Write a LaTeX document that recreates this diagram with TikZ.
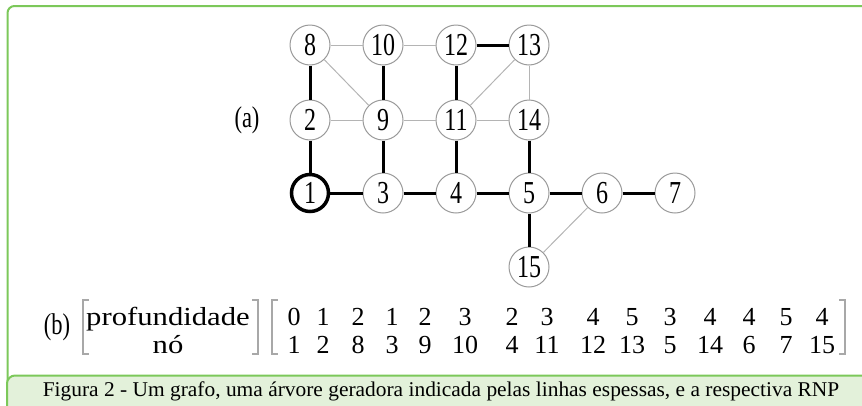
\documentclass[tikz,border=0pt]{standalone}
\usepackage{fontspec}
\usepackage{graphicx}
\setmainfont{LiberationSerif}[Extension=.ttf,UprightFont=*-Regular,BoldFont=*-Bold,ItalicFont=*-Italic]
\definecolor{frameg}{HTML}{7CC85A}
\definecolor{capfill}{HTML}{E3F1DA}
\definecolor{thingray}{HTML}{B4B4B4}
\definecolor{circgray}{HTML}{9A9A9A}
\definecolor{brk}{HTML}{A8A8A8}
\newcommand{\gn}[1]{\scalebox{0.75}[1]{#1}}
\newcommand{\mx}[1]{\scalebox{1.18}[1]{#1}}
\tikzset{
  vtx/.style={circle,draw=circgray,fill=white,line width=1pt,minimum size=40pt,inner sep=0pt,
    font=\fontsize{32}{32}\selectfont},
  root/.style={vtx,draw=black,line width=3.5pt,minimum size=37pt},
  tree/.style={line width=3pt,black},
  cotree/.style={line width=1pt,draw=thingray},
  ent/.style={anchor=base,inner sep=0pt,font=\fontsize{26}{26}\selectfont},
  bracket/.style={draw=brk,line width=1.2pt},
}
\begin{document}
\begin{tikzpicture}[x=1pt,y=-1pt]
\useasboundingbox (0,0) rectangle (862,405);
% frame
\draw[frameg,line width=2pt,rounded corners=7pt] (7.5,420) -- (7.5,6) -- (880,6);
\draw[frameg,fill=capfill,line width=2pt,rounded corners=8pt] (7,375.5) rectangle (880,430);
\node[font=\fontsize{21}{21}\selectfont] (cap) at (441,391) {\scalebox{1.02}[1]{Figura 2 - Um grafo, uma árvore geradora indicada pelas linhas espessas, e a respectiva RNP}};
% graph nodes
\node[vtx] (n8) at (310,45) {\gn{8}};
\node[vtx] (n10) at (383,45) {\gn{10}};
\node[vtx] (n12) at (456,45) {\gn{12}};
\node[vtx] (n13) at (529,45) {\gn{13}};
\node[vtx] (n2) at (310,120) {\gn{2}};
\node[vtx] (n9) at (383,120) {\gn{9}};
\node[vtx] (n11) at (456,120) {\gn{11}};
\node[vtx] (n14) at (529,120) {\gn{14}};
\node[root] (n1) at (310,193) {\gn{1}};
\node[vtx] (n3) at (383,193) {\gn{3}};
\node[vtx] (n4) at (456,193) {\gn{4}};
\node[vtx] (n5) at (529,193) {\gn{5}};
\node[vtx] (n6) at (602,193) {\gn{6}};
\node[vtx] (n7) at (675,193) {\gn{7}};
\node[vtx] (n15) at (529,267) {\gn{15}};
% thin edges
\draw[cotree] (n8) -- (n10);
\draw[cotree] (n10) -- (n12);
\draw[cotree] (n8) -- (n9);
\draw[cotree] (n2) -- (n9);
\draw[cotree] (n9) -- (n11);
\draw[cotree] (n11) -- (n14);
\draw[cotree] (n11) -- (n13);
\draw[cotree] (n13) -- (n14);
\draw[cotree] (n6) -- (n15);
% tree edges
\draw[tree] (n12) -- (n13);
\draw[tree] (n8) -- (n2);
\draw[tree] (n10) -- (n9);
\draw[tree] (n12) -- (n11);
\draw[tree] (n2) -- (n1);
\draw[tree] (n9) -- (n3);
\draw[tree] (n11) -- (n4);
\draw[tree] (n14) -- (n5);
\draw[tree] (n1) -- (n3);
\draw[tree] (n3) -- (n4);
\draw[tree] (n4) -- (n5);
\draw[tree] (n5) -- (n6);
\draw[tree] (n6) -- (n7);
\draw[tree] (n5) -- (n15);
% labels
\node[font=\fontsize{30}{30}\selectfont] (la) at (247,120) {\gn{(a)}};
\node[font=\fontsize{30}{30}\selectfont] (lb) at (57,327) {\gn{(b)}};
% left matrix
\node[ent] (prof) at (168,325) {\mx{profundidade}};
\node[ent] (no) at (168,353) {\mx{nó}};
\draw[bracket] (89,300) -- (83,300) -- (83,354) -- (89,354);
\draw[bracket] (252,300) -- (258,300) -- (258,354) -- (252,354);
% right matrix
\foreach \x/\d/\v [count=\i] in {294/0/1,323/1/2,358/2/8,392/1/3,425/2/9,465/3/10,512/2/4,547/3/11,593/4/12,632/5/13,670/3/5,710/4/14,749/4/6,786/5/7,822/4/15}{
  \node[ent] (d\i) at (\x,325) {\d};
  \node[ent] (v\i) at (\x,353) {\v};
}
\draw[bracket] (278,300) -- (272,300) -- (272,354) -- (278,354);
\draw[bracket] (839,300) -- (845,300) -- (845,354) -- (839,354);
\end{tikzpicture}
\end{document}
